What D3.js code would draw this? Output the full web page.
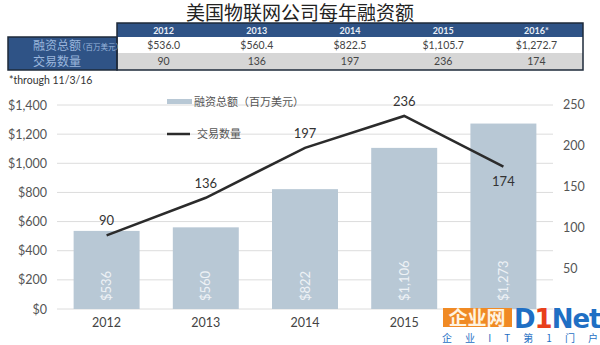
<!DOCTYPE html>
<html>
<head>
<meta charset="utf-8">
<script src="https://cdn.jsdelivr.net/npm/d3@7"></script>
<style>
  html, body { margin: 0; padding: 0; background: #fff; }
  svg { display: block; font-family: Lato, "Noto Sans CJK SC", sans-serif; }
</style>
</head>
<body>
<svg id="chart" width="600" height="345"></svg>
<script>
const title = "美国物联网公司每年融资额";
const years = ["2012", "2013", "2014", "2015", "2016"];
const tableHeaders = ["2012", "2013", "2014", "2015", "2016*"];
const funding = [536.0, 560.4, 822.46, 1105.7, 1272.7];
const deals = [90, 136, 197, 236, 174];
const leftTicks = [0, 200, 400, 600, 800, 1000, 1200, 1400];
const rightTicks = [50, 100, 150, 200, 250];
const fundingLabel = "融资总额";
const fundingUnit = "（百万美元）";
const dealsLabel = "交易数量";
const footnote = "*through 11/3/16";
const legendBar = "融资总额（百万美元）";
const legendLine = "交易数量";

const svg = d3.select("#chart");

// Title
svg.append("text").attr("x", 300).attr("y", 19.5).attr("text-anchor", "middle")
  .attr("font-size", 19).attr("fill", "#222")
  .attr("font-family", "'Noto Sans CJK SC', sans-serif").text(title);

// Table
const tX0 = 8, tX1 = 117, tX2 = 583;
const rowY = [23, 37, 53, 70];
const colX = d3.scaleBand().domain(tableHeaders).range([tX1, tX2]);
const navy = "#2f5386";

svg.append("rect").attr("x", tX1).attr("y", rowY[0]).attr("width", tX2 - tX1).attr("height", rowY[1] - rowY[0]).attr("fill", navy);
svg.append("rect").attr("x", tX1).attr("y", rowY[1]).attr("width", tX2 - tX1).attr("height", rowY[2] - rowY[1]).attr("fill", "#fff");
svg.append("rect").attr("x", tX1).attr("y", rowY[2]).attr("width", tX2 - tX1).attr("height", rowY[3] - rowY[2]).attr("fill", "#d6d6d6");
svg.append("rect").attr("x", tX0).attr("y", rowY[1]).attr("width", tX1 - tX0).attr("height", rowY[3] - rowY[1]).attr("fill", navy);
svg.append("rect").attr("x", tX1).attr("y", rowY[0]).attr("width", tX2 - tX1).attr("height", rowY[3] - rowY[0])
  .attr("fill", "none").attr("stroke", "#1e2a3a").attr("stroke-width", 1.5);
svg.append("rect").attr("x", tX0).attr("y", rowY[1]).attr("width", tX1 - tX0).attr("height", rowY[3] - rowY[1])
  .attr("fill", "none").attr("stroke", "#1e2a3a").attr("stroke-width", 1.5);

svg.selectAll(".th").data(tableHeaders).join("text")
  .attr("x", d => colX(d) + colX.bandwidth() / 2).attr("y", 33.5)
  .attr("text-anchor", "middle").attr("font-size", 9).attr("font-weight", "bold")
  .attr("fill", "#e8eef6").text(d => d);

const fmtT = d3.format("$,.1f");
svg.selectAll(".tf").data(funding).join("text")
  .attr("x", (d, i) => colX(tableHeaders[i]) + colX.bandwidth() / 2).attr("y", 48.5)
  .attr("text-anchor", "middle").attr("font-size", 10.5).attr("fill", "#444").text(d => fmtT(d));
svg.selectAll(".td").data(deals).join("text")
  .attr("x", (d, i) => colX(tableHeaders[i]) + colX.bandwidth() / 2).attr("y", 65)
  .attr("text-anchor", "middle").attr("font-size", 10.5).attr("fill", "#444").text(d => d);

const lbl1 = svg.append("text").attr("x", 33).attr("y", 50).attr("fill", "#9ab6dc")
  .attr("font-family", "'Noto Sans CJK SC', sans-serif");
lbl1.append("tspan").attr("font-size", 12).text(fundingLabel);
lbl1.append("tspan").attr("font-size", 7.5).attr("dx", -3).text(fundingUnit);
svg.append("text").attr("x", 33).attr("y", 66).attr("fill", "#9ab6dc").attr("font-size", 12)
  .attr("font-family", "'Noto Sans CJK SC', sans-serif").text(dealsLabel);

svg.append("text").attr("x", 9).attr("y", 84).attr("font-size", 10.5).attr("fill", "#333").text(footnote);

// Chart scales
const x = d3.scaleBand().domain(years).range([57, 553]).paddingInner(0.335).paddingOuter(0.1675);
const yL = d3.scaleLinear().domain([0, 1400]).range([309, 105]);
const yR = d3.scaleLinear().domain([0, 250]).range([309, 104.5]);

// Gridlines
svg.append("g").selectAll("line").data(leftTicks).join("line")
  .attr("x1", 57).attr("x2", 553).attr("y1", d => yL(d)).attr("y2", d => yL(d))
  .attr("stroke", "#dcdcdc").attr("stroke-width", 1);

// Left axis
const axL = svg.append("g").attr("transform", "translate(57,0)")
  .call(d3.axisLeft(yL).tickValues(leftTicks).tickFormat(d3.format("$,.0f")).tickSize(0).tickPadding(10));
axL.select(".domain").remove();
axL.selectAll("text").attr("font-size", 12.5).attr("fill", "#555").attr("font-family", "Lato, sans-serif");

// Right axis
const axR = svg.append("g").attr("transform", "translate(553,0)")
  .call(d3.axisRight(yR).tickValues(rightTicks).tickSize(0).tickPadding(10));
axR.select(".domain").remove();
axR.selectAll("text").attr("font-size", 12.5).attr("fill", "#555").attr("font-family", "Lato, sans-serif");

// Bottom axis
const axB = svg.append("g").attr("transform", "translate(0,309)")
  .call(d3.axisBottom(x).tickSize(0).tickPadding(9));
axB.select(".domain").remove();
axB.selectAll("text").attr("font-size", 12.5).attr("fill", "#444").attr("font-family", "Lato, sans-serif");

// Bars
svg.append("g").selectAll("rect").data(funding).join("rect")
  .attr("x", (d, i) => x(years[i])).attr("width", x.bandwidth())
  .attr("y", d => yL(d)).attr("height", d => yL(0) - yL(d))
  .attr("fill", "#b8c8d5");

// Bar labels (rotated)
const fmtB = d3.format("$,.0f");
svg.append("g").selectAll("text").data(funding).join("text")
  .attr("transform", (d, i) => `translate(${x(years[i]) + x.bandwidth() / 2 + 4.5},301) rotate(-90)`)
  .attr("font-size", 13).attr("fill", "#eef2f6").text(d => fmtB(d));

// Line
const cx = (i) => x(years[i]) + x.bandwidth() / 2;
const line = d3.line().x((d, i) => cx(i)).y(d => yR(d));
svg.append("path").datum(deals).attr("d", line)
  .attr("fill", "none").attr("stroke", "#2b2b2b").attr("stroke-width", 2.5);

// Line labels
svg.append("g").selectAll("text").data(deals).join("text")
  .attr("x", (d, i) => cx(i)).attr("y", (d, i) => i === 4 ? yR(d) + 19 : yR(d) - 10)
  .attr("text-anchor", "middle").attr("font-size", 13).attr("fill", "#333").text(d => d);

// Legend
svg.append("rect").attr("x", 167).attr("y", 99).attr("width", 25).attr("height", 5).attr("fill", "#b8c8d5");
svg.append("text").attr("x", 194).attr("y", 106).attr("font-size", 11).attr("fill", "#555")
  .attr("font-family", "'Noto Sans CJK SC', sans-serif").text(legendBar);
svg.append("line").attr("x1", 167).attr("x2", 190).attr("y1", 134).attr("y2", 134)
  .attr("stroke", "#2b2b2b").attr("stroke-width", 2.5);
svg.append("text").attr("x", 197).attr("y", 138).attr("font-size", 11).attr("fill", "#555")
  .attr("font-family", "'Noto Sans CJK SC', sans-serif").text(legendLine);

// Watermark (covers the last year label, as in the reference)
const wm = svg.append("g");
wm.append("rect").attr("x", 440).attr("y", 310).attr("width", 160).attr("height", 35).attr("fill", "#fff");
wm.append("rect").attr("x", 443).attr("y", 308).attr("width", 69).attr("height", 19).attr("fill", "#f08a24");
wm.append("text").attr("x", 477).attr("y", 325).attr("text-anchor", "middle").attr("font-size", 19)
  .attr("font-weight", "bold").attr("fill", "#fff3e0").attr("font-family", "'Noto Sans CJK SC', sans-serif").text("企业网");
const dn = wm.append("text").attr("x", 514).attr("y", 328).attr("font-size", 26).attr("font-weight", "bold")
  .attr("fill", "#1f6fc4").attr("font-family", "'DejaVu Sans', sans-serif").attr("letter-spacing", -1);
dn.append("tspan").text("D");
dn.append("tspan").attr("fill", "#e8401c").text("1");
dn.append("tspan").text("Net");
wm.append("text").attr("x", 442).attr("y", 342).attr("font-size", 10).attr("fill", "#1f6fc4")
  .attr("textLength", 156).attr("font-family", "'Noto Sans CJK SC', sans-serif").text("企业IT第1门户");
</script>
</body>
</html>
